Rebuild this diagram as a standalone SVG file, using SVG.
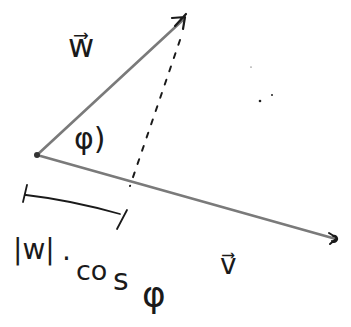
<svg xmlns="http://www.w3.org/2000/svg" width="351" height="327" viewBox="0 0 351 327">
<style>
.vec{stroke:#7a7a7a;stroke-width:2.6;fill:none;stroke-linecap:round}
.ink{stroke:#1a1a1a;fill:none;stroke-linecap:round;stroke-linejoin:round}
.t{font-family:"DejaVu Sans",sans-serif;fill:#1a1a1a}
</style>
<rect width="351" height="327" fill="#fff"/>
<g id="connectors">
<path id="w-vector" class="vec" d="M37,155 L184,19"/>
<path class="ink" stroke-width="2.2" d="M172,18 L185,17 L183,29 M175,26 L186,14"/>
<path id="v-vector" class="vec" d="M37,155 L336,239"/>
<path class="ink" stroke="#555" stroke-width="2" d="M329,233 L337,238 L330,244 M333,236 a3,3 0 1 1 -1,5"/>
<path id="projection" class="ink" stroke-width="2" stroke-dasharray="5,9" d="M180,40 L130,186"/>
<path id="bracket" class="ink" stroke-width="1.8" d="M27,185 L23,202 M26,195 Q70,200 120,214 M127,210 L117,229"/>
</g>
<g id="origin"><circle cx="37" cy="155" r="3" fill="#333"/></g>
<g id="label-w"><text class="t" x="68" y="57" font-size="32">w⃗</text></g>
<g id="label-phi"><text class="t" x="74" y="149" font-size="30">φ)</text></g>
<g id="label-v"><text class="t" x="220" y="274" font-size="28">v⃗</text></g>
<g id="label-proj">
<text class="t" font-size="28"><tspan x="13" y="259">|w|</tspan><tspan x="62" y="268">·</tspan><tspan x="76" y="280" font-size="27">co</tspan><tspan x="113" y="290" font-size="30">s</tspan><tspan x="142" y="307" font-size="36">φ</tspan></text>
</g>
<g id="specks" fill="#222"><circle cx="260" cy="101" r="1.3"/><circle cx="272" cy="95" r="1"/><circle cx="251" cy="67" r="0.6"/></g>
</svg>
